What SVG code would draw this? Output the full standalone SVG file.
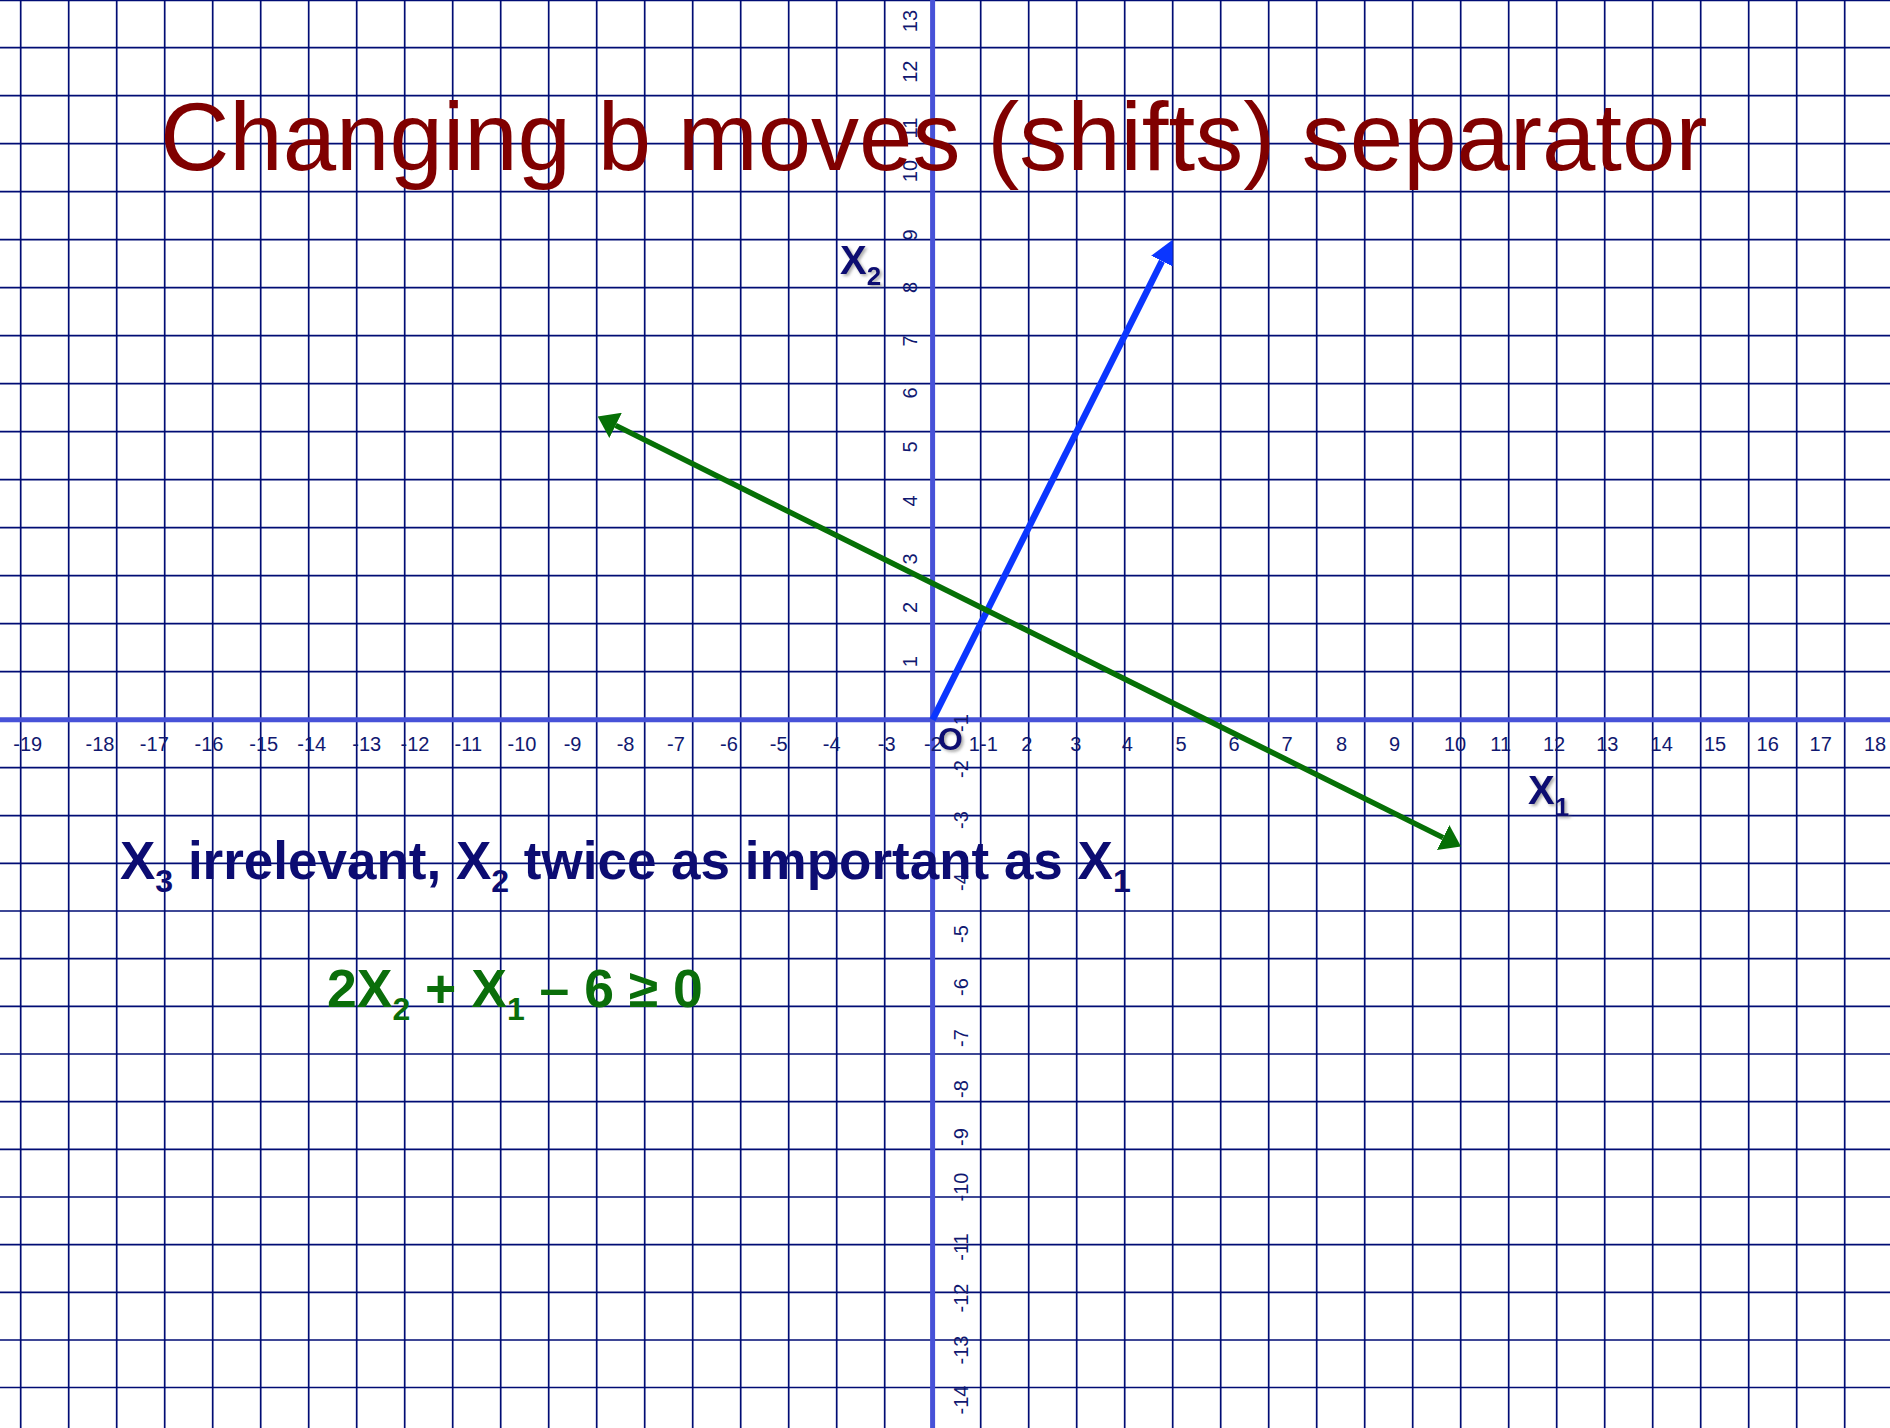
<svg xmlns="http://www.w3.org/2000/svg" width="1890" height="1428" viewBox="0 0 1890 1428">
<style>
.grid{stroke:#000c74;stroke-width:1.7;fill:none}
.axis{stroke:#4752d8;stroke-width:5;fill:none}
.tick{font-family:"Liberation Sans",Arial,sans-serif;font-size:20px;fill:#101870;text-anchor:middle}
.title{font-family:"Liberation Sans",Arial,sans-serif;font-size:96px;fill:#800000}
.bold{font-family:"Liberation Sans",Arial,sans-serif;font-weight:bold}
.navy{fill:#0c0c72}
.green{fill:#0a6e0a}
</style>
<defs>
<marker id="ah-blue" markerUnits="userSpaceOnUse" markerWidth="24" markerHeight="24" viewBox="0 0 24 24" refX="0" refY="12" orient="auto"><path d="M0,0 L24,12 L0,24 z" fill="#0b36ff"/></marker>
<marker id="ah-green" markerUnits="userSpaceOnUse" markerWidth="20" markerHeight="28" viewBox="0 0 20 28" refX="0" refY="14" orient="auto-start-reverse"><path d="M0,0 L20,14 L0,28 z" fill="#067006"/></marker>
<filter id="shadow" x="-20%" y="-20%" width="150%" height="150%"><feDropShadow dx="2" dy="2" stdDeviation="1.5" flood-color="#777" flood-opacity="0.6"/></filter>
</defs>
<rect x="0" y="0" width="1890" height="1428" fill="#fff"/>
<g id="grid" class="grid">
<path d="M20.7,0V1428M68.7,0V1428M116.7,0V1428M164.7,0V1428M212.7,0V1428M260.7,0V1428M308.7,0V1428M356.7,0V1428M404.7,0V1428M452.7,0V1428M500.7,0V1428M548.7,0V1428M596.7,0V1428M644.7,0V1428M692.7,0V1428M740.7,0V1428M788.7,0V1428M836.7,0V1428M884.7,0V1428M980.7,0V1428M1028.7,0V1428M1076.7,0V1428M1124.7,0V1428M1172.7,0V1428M1220.7,0V1428M1268.7,0V1428M1316.7,0V1428M1364.7,0V1428M1412.7,0V1428M1460.7,0V1428M1508.7,0V1428M1556.7,0V1428M1604.7,0V1428M1652.7,0V1428M1700.7,0V1428M1748.7,0V1428M1796.7,0V1428M1844.7,0V1428"/>
<path d="M0,0.4H1890M0,47.7H1890M0,95.7H1890M0,143.7H1890M0,191.7H1890M0,239.7H1890M0,287.7H1890M0,335.7H1890M0,383.7H1890M0,431.7H1890M0,479.7H1890M0,527.7H1890M0,575.7H1890M0,623.7H1890M0,671.7H1890M0,767.7H1890M0,815.7H1890M0,863.3H1890M0,911H1890M0,958.7H1890M0,1006.3H1890M0,1054H1890M0,1101.7H1890M0,1149.3H1890M0,1197H1890M0,1244.7H1890M0,1292.3H1890M0,1340H1890M0,1387.5H1890"/>
</g>
<g id="axes" class="axis">
<path d="M0,719.7H1890"/>
<path d="M932.6,0V1428"/>
</g>
<g id="x-tick-labels" class="tick">
<text x="27.7" y="751">-19</text>
<text x="100" y="751">-18</text>
<text x="154.3" y="751">-17</text>
<text x="209" y="751">-16</text>
<text x="263.7" y="751">-15</text>
<text x="311.7" y="751">-14</text>
<text x="366.7" y="751">-13</text>
<text x="415" y="751">-12</text>
<text x="468.3" y="751">-11</text>
<text x="522" y="751">-10</text>
<text x="572.6" y="751">-9</text>
<text x="625.6" y="751">-8</text>
<text x="676" y="751">-7</text>
<text x="729" y="751">-6</text>
<text x="778.7" y="751">-5</text>
<text x="831.7" y="751">-4</text>
<text x="886.7" y="751">-3</text>
<text x="933" y="751">-2</text>
<text x="983.3" y="751">1-1</text>
<text x="1026.7" y="751">2</text>
<text x="1075.7" y="751">3</text>
<text x="1127.3" y="751">4</text>
<text x="1181" y="751">5</text>
<text x="1234" y="751">6</text>
<text x="1287" y="751">7</text>
<text x="1341.6" y="751">8</text>
<text x="1394.6" y="751">9</text>
<text x="1455" y="751">10</text>
<text x="1500.7" y="751">11</text>
<text x="1554" y="751">12</text>
<text x="1607.3" y="751">13</text>
<text x="1661.7" y="751">14</text>
<text x="1715" y="751">15</text>
<text x="1767.7" y="751">16</text>
<text x="1820.7" y="751">17</text>
<text x="1875" y="751">18</text>
</g>
<g id="y-tick-labels" class="tick">
<text transform="translate(916.5,21) rotate(-90)">13</text>
<text transform="translate(916.5,71.7) rotate(-90)">12</text>
<text transform="translate(916.5,128) rotate(-90)">11</text>
<text transform="translate(916.5,171) rotate(-90)">10</text>
<text transform="translate(916.5,235) rotate(-90)">9</text>
<text transform="translate(916.5,287.5) rotate(-90)">8</text>
<text transform="translate(916.5,341) rotate(-90)">7</text>
<text transform="translate(916.5,393) rotate(-90)">6</text>
<text transform="translate(916.5,447) rotate(-90)">5</text>
<text transform="translate(916.5,501) rotate(-90)">4</text>
<text transform="translate(916.5,559) rotate(-90)">3</text>
<text transform="translate(916.5,607.5) rotate(-90)">2</text>
<text transform="translate(916.5,661.8) rotate(-90)">1</text>
<text transform="translate(968,723) rotate(-90)">-1</text>
<text transform="translate(968,769) rotate(-90)">-2</text>
<text transform="translate(968,820) rotate(-90)">-3</text>
<text transform="translate(968,882) rotate(-90)">-4</text>
<text transform="translate(968,934) rotate(-90)">-5</text>
<text transform="translate(968,987) rotate(-90)">-6</text>
<text transform="translate(968,1038) rotate(-90)">-7</text>
<text transform="translate(968,1089) rotate(-90)">-8</text>
<text transform="translate(968,1137) rotate(-90)">-9</text>
<text transform="translate(968,1187) rotate(-90)">-10</text>
<text transform="translate(968,1247) rotate(-90)">-11</text>
<text transform="translate(968,1298) rotate(-90)">-12</text>
<text transform="translate(968,1350) rotate(-90)">-13</text>
<text transform="translate(968,1400) rotate(-90)">-14</text>
</g>
<g id="title">
<text class="title" x="160" y="170">Changing b moves (shifts) separator</text>
</g>
<g id="connectors">
<path id="weight-vector" d="M932.6,719.7 L1161.9,261.2" stroke="#0b36ff" stroke-width="6.5" fill="none" marker-end="url(#ah-blue)"/>
<path id="separator" d="M615.6,425.4 L1443.1,837.6" stroke="#067006" stroke-width="5.5" fill="none" marker-start="url(#ah-green)" marker-end="url(#ah-green)"/>
</g>
<g id="label-x2" filter="url(#shadow)">
<text class="bold navy" x="840" y="274" font-size="40">X<tspan font-size="26" dy="11">2</tspan></text>
</g>
<g id="label-x1" filter="url(#shadow)">
<text class="bold navy" x="1528" y="804" font-size="40">X<tspan font-size="26" dy="12">1</tspan></text>
</g>
<g id="label-origin" filter="url(#shadow)">
<text class="bold navy" x="950.5" y="750" font-size="32" text-anchor="middle">O</text>
</g>
<g id="statement">
<text class="bold navy" x="120" y="879" font-size="53">X<tspan font-size="32" dy="12.7">3</tspan><tspan dy="-12.7"> irrelevant, X</tspan><tspan font-size="32" dy="12.7">2</tspan><tspan dy="-12.7"> twice as important as X</tspan><tspan font-size="32" dy="12.7">1</tspan></text>
</g>
<g id="equation">
<text class="bold green" x="327" y="1006.7" font-size="53.5">2X<tspan font-size="32" dy="13.3">2</tspan><tspan dy="-13.3"> + X</tspan><tspan font-size="32" dy="13.3">1</tspan><tspan dy="-13.3"> – 6 ≥ 0</tspan></text>
</g>
</svg>
